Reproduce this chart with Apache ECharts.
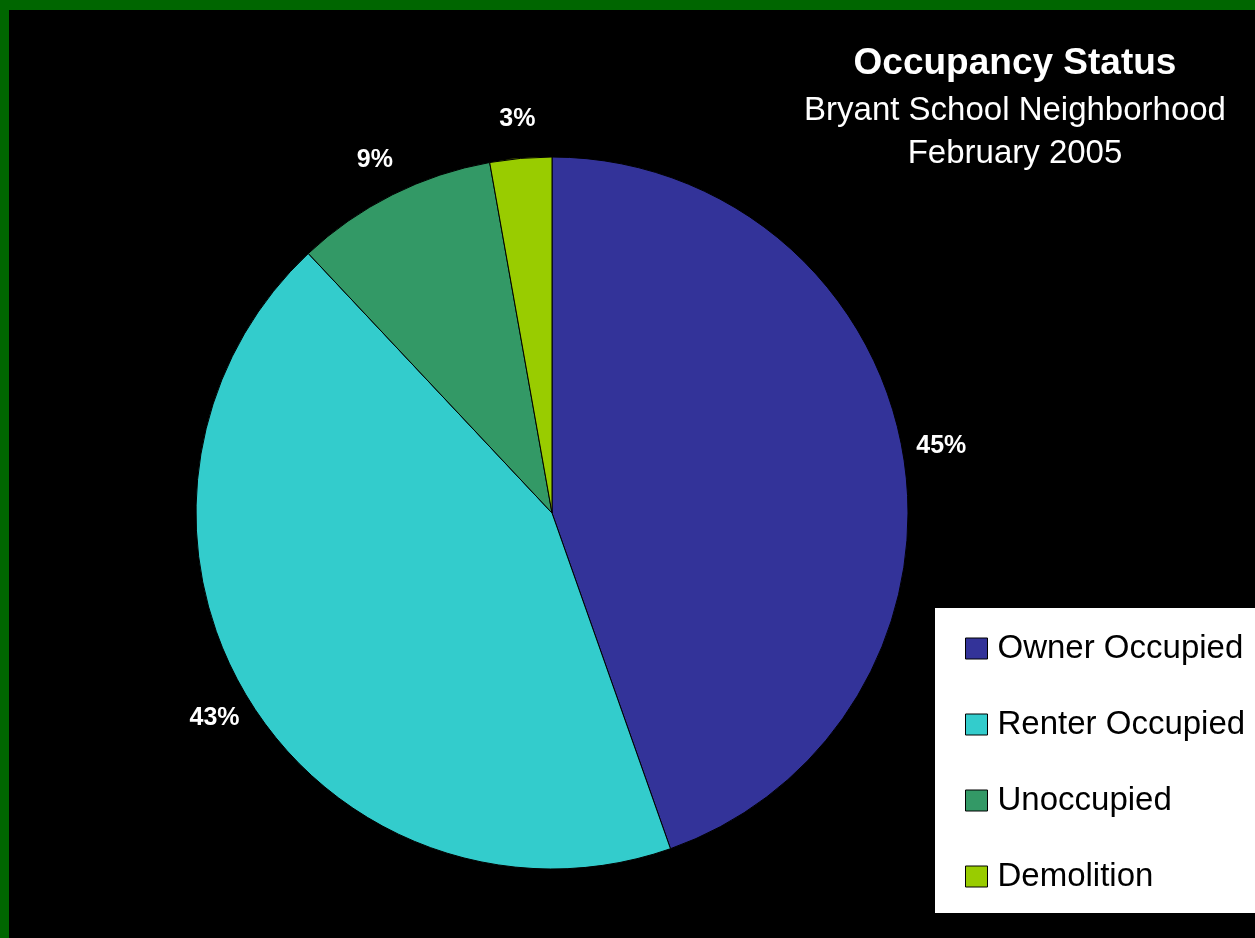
<!DOCTYPE html>
<html lang="en">
<head>
    <meta charset="UTF-8">
    <title>Occupancy Status</title>
    <style>
        html, body { margin: 0; padding: 0; background: #006600; overflow: hidden; }
        #container { position: absolute; left: 9px; top: 10px; width: 1246px; height: 928px; background: #000; }
    </style>
</head>
<body>
<div id="container"></div>
<script src="https://cdn.jsdelivr.net/npm/echarts@6/dist/echarts.min.js"></script>
<script type="text/javascript">
    // values (percent of units)
    var categories = ['Owner Occupied', 'Renter Occupied', 'Unoccupied', 'Demolition'];
    var shares = [44.6, 43.4, 9.2, 2.8];
    var palette = ['#333399', '#33CCCC', '#339966', '#99CC00'];

    var font = '"Liberation Sans", Arial, sans-serif';

    var pieData = categories.map(function (name, i) {
        return { name: name, value: shares[i], itemStyle: { color: palette[i] } };
    });
    // same data again, drawn invisible, only to carry the percent labels outside the pie
    var labelData = categories.map(function (name, i) {
        return { name: name, value: shares[i] };
    });

    var chart = echarts.init(document.getElementById('container'));
    var option = {
        animation: false,
        backgroundColor: '#000',
        title: {
            text: 'Occupancy Status',
            subtext: 'Bryant School Neighborhood\nFebruary 2005',
            left: 1001,
            top: 27,
            textAlign: 'center',
            itemGap: 3,
            textStyle: { color: '#fff', fontFamily: font, fontWeight: 'bold', fontSize: 37, lineHeight: 44 },
            subtextStyle: { color: '#fff', fontFamily: font, fontSize: 33, lineHeight: 43 }
        },
        legend: {
            data: categories,
            orient: 'vertical',
            left: 926,
            top: 598,
            backgroundColor: '#fff',
            padding: [24, 10, 20, 30],
            itemGap: 43,
            itemWidth: 22,
            itemHeight: 21,
            icon: 'rect',
            selectedMode: false,
            itemStyle: { borderColor: '#000', borderWidth: 1 },
            textStyle: { color: '#000', fontFamily: font, fontSize: 33, lineHeight: 30, width: 256, padding: [0, 0, 0, 5] }
        },
        series: [
            {
                name: 'Occupancy',
                type: 'pie',
                center: [543, 503],
                radius: [0, 356],
                startAngle: 90,
                clockwise: true,
                silent: true,
                avoidLabelOverlap: false,
                itemStyle: { borderColor: '#000', borderWidth: 1 },
                label: { show: false },
                labelLine: { show: false },
                emphasis: { disabled: true },
                data: pieData
            },
            {
                name: 'Labels',
                type: 'pie',
                center: [543, 503],
                radius: [356, 428],
                startAngle: 90,
                clockwise: true,
                silent: true,
                avoidLabelOverlap: false,
                itemStyle: { color: 'rgba(0,0,0,0)', borderWidth: 0 },
                label: {
                    show: true,
                    position: 'inside',
                    color: '#fff',
                    fontFamily: font,
                    fontWeight: 'bold',
                    fontSize: 25,
                    formatter: function (p) { return Math.round(p.percent) + '%'; }
                },
                labelLine: { show: false },
                emphasis: { disabled: true },
                data: labelData
            }
        ]
    };
    chart.setOption(option, true);
</script>
</body>
</html>
